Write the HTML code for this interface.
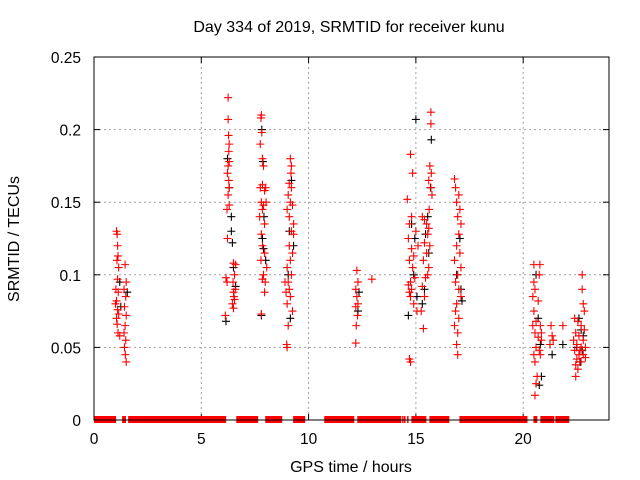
<!DOCTYPE html>
<html><head><meta charset="utf-8"><style>
body{margin:0;background:#fff}
svg{display:block;font-family:"Liberation Sans",sans-serif}
</style></head><body>
<svg id="chart" width="640" height="480">
<rect width="640" height="480" fill="#fff"/>
<text x="349" y="32" font-size="16" text-anchor="middle">Day 334 of 2019, SRMTID for receiver kunu</text>
<text x="19" y="239" font-size="16" text-anchor="middle" transform="rotate(-90 19 239)">SRMTID / TECUs</text>
<text x="351" y="472" font-size="16" text-anchor="middle">GPS time / hours</text>
<g id="grid"></g><g id="ticks"></g><g id="marks"></g>
<rect x="94" y="57" width="515" height="363" fill="none" stroke="#000"/>
</svg>
<script>
const xTicks=[0,5,10,15,20];
const yTicks=[0,0.05,0.1,0.15,0.2,0.25];
const yTickLabels=["0","0.05","0.1","0.15","0.2","0.25"];
const zeroSegments=[[0,1.03],[1.31,1.49],[1.59,6.16],[6.63,7.65],[7.98,8.77],[9.28,9.84],[10.73,12.13],[12.27,14.32],[14.36,14.38],[14.45,14.47],[14.59,14.61],[14.79,15.49],[15.63,16.56],[17.03,20.2],[20.48,20.66],[20.8,21.45],[21.5,22.15]];
const redPoints=[[1.05,0.13],[1.08,0.128],[1.1,0.12],[1.12,0.113],[1.07,0.11],[1.15,0.105],[1.1,0.097],[1.02,0.09],[1.13,0.088],[1.05,0.082],[1.0,0.08],[1.1,0.076],[1.15,0.073],[1.05,0.07],[1.08,0.066],[1.12,0.06],[1.2,0.058],[1.45,0.107],[1.5,0.095],[1.4,0.09],[1.48,0.085],[1.42,0.078],[1.5,0.072],[1.45,0.065],[1.4,0.06],[1.48,0.055],[1.42,0.05],[1.46,0.045],[1.5,0.04],
[6.25,0.222],[6.25,0.207],[6.27,0.196],[6.3,0.19],[6.28,0.185],[6.3,0.178],[6.25,0.175],[6.22,0.17],[6.28,0.165],[6.3,0.16],[6.25,0.155],[6.3,0.148],[6.2,0.145],[6.22,0.125],[6.15,0.098],[6.2,0.095],[6.12,0.072],[6.5,0.108],[6.55,0.1],[6.48,0.095],[6.5,0.088],[6.55,0.083],[6.45,0.08],[6.5,0.077],[6.52,0.085],[6.6,0.107],[6.58,0.09],
[7.8,0.21],[7.78,0.208],[7.82,0.198],[7.75,0.19],[7.85,0.18],[7.9,0.175],[7.85,0.162],[7.75,0.16],[7.95,0.158],[7.8,0.15],[7.9,0.148],[7.85,0.145],[7.72,0.14],[7.95,0.135],[7.8,0.128],[7.85,0.12],[7.95,0.115],[7.78,0.11],[7.9,0.1],[7.85,0.097],[7.95,0.088],[7.8,0.073],[8.0,0.16],[8.02,0.15],[8.05,0.105],[7.98,0.095],
[9.15,0.18],[9.2,0.175],[9.18,0.17],[9.1,0.163],[9.2,0.16],[9.05,0.155],[9.15,0.15],[9.25,0.148],[9.0,0.145],[9.1,0.14],[9.3,0.135],[9.2,0.13],[9.3,0.128],[9.1,0.12],[9.25,0.115],[9.15,0.11],[9.0,0.105],[9.2,0.1],[9.05,0.095],[9.1,0.09],[8.95,0.088],[9.15,0.085],[9.0,0.08],[9.25,0.075],[9.05,0.065],[8.98,0.052],[9.0,0.05],[8.9,0.095],
[12.25,0.103],[12.3,0.095],[12.2,0.09],[12.25,0.085],[12.3,0.08],[12.2,0.078],[12.28,0.072],[12.22,0.065],[12.2,0.053],[12.95,0.097],
[14.75,0.183],[14.85,0.17],[14.6,0.152],[14.8,0.14],[14.7,0.135],[15.0,0.13],[14.65,0.125],[14.8,0.118],[14.9,0.113],[14.7,0.11],[14.85,0.105],[14.75,0.095],[14.65,0.093],[14.7,0.088],[14.8,0.09],[14.75,0.085],[14.9,0.08],[15.05,0.075],[14.7,0.042],[14.75,0.04],[14.95,0.098],[15.1,0.12],
[15.7,0.212],[15.7,0.204],[15.65,0.175],[15.72,0.17],[15.6,0.165],[15.7,0.16],[15.75,0.155],[15.62,0.145],[15.3,0.14],[15.4,0.138],[15.5,0.135],[15.6,0.132],[15.55,0.128],[15.4,0.122],[15.65,0.12],[15.5,0.115],[15.35,0.11],[15.6,0.105],[15.45,0.098],[15.3,0.092],[15.4,0.085],[15.25,0.075],[15.35,0.063],[15.55,0.1],
[16.8,0.166],[16.85,0.16],[17.0,0.155],[16.9,0.15],[17.05,0.145],[16.95,0.14],[17.1,0.135],[17.0,0.128],[16.9,0.12],[17.05,0.115],[16.8,0.11],[17.1,0.105],[16.95,0.1],[16.85,0.095],[17.0,0.09],[17.1,0.085],[16.9,0.08],[16.85,0.075],[17.0,0.07],[16.8,0.065],[16.95,0.06],[16.9,0.052],[16.95,0.045],
[20.5,0.107],[20.78,0.107],[20.5,0.095],[20.55,0.09],[20.45,0.085],[20.75,0.1],[20.7,0.082],[20.5,0.075],[20.6,0.068],[20.45,0.065],[20.8,0.065],[20.55,0.06],[20.7,0.057],[20.85,0.055],[20.6,0.05],[20.75,0.048],[20.5,0.045],[20.8,0.045],[20.55,0.04],[20.65,0.03],[20.6,0.025],[20.55,0.017],[20.85,0.06],
[21.3,0.065],[21.35,0.058],[21.25,0.052],[21.4,0.055],
[22.75,0.1],[22.75,0.09],[22.8,0.08],[22.85,0.075],[22.4,0.07],[22.55,0.068],[22.7,0.065],[22.85,0.062],[22.45,0.06],[22.6,0.058],[22.8,0.055],[22.35,0.055],[22.5,0.052],[22.7,0.05],[22.9,0.05],[22.4,0.048],[22.6,0.045],[22.8,0.045],[22.5,0.042],[22.7,0.04],[22.45,0.038],[22.55,0.035],[22.45,0.03],[22.65,0.048],[22.9,0.043],[21.85,0.065]];
const blackPoints=[[1.2,0.095],[1.25,0.078],[1.55,0.088],
[6.22,0.18],[6.3,0.16],[6.4,0.14],[6.45,0.122],[6.4,0.13],[6.5,0.105],[6.15,0.068],[6.6,0.092],
[7.82,0.2],[7.87,0.178],[7.92,0.14],[7.85,0.125],[7.9,0.118],[7.8,0.072],[8.0,0.11],
[9.2,0.165],[9.1,0.13],[9.3,0.12],[9.05,0.1],[9.15,0.07],
[12.3,0.075],[12.35,0.088],
[15.0,0.207],[14.8,0.135],[14.95,0.125],[14.65,0.072],[15.05,0.085],[14.9,0.1],
[15.72,0.193],[15.68,0.16],[15.55,0.14],[15.45,0.128],[15.6,0.115],[15.4,0.09],[15.3,0.08],
[17.05,0.125],[17.1,0.09],[16.9,0.1],[17.15,0.082],
[20.6,0.1],[20.7,0.07],[20.8,0.052],[20.85,0.03],[20.75,0.024],
[21.35,0.045],[21.85,0.052],
[22.6,0.07],[22.7,0.062],[22.8,0.058],[22.5,0.05],[22.65,0.04],[22.75,0.048]];
const NS='http://www.w3.org/2000/svg';
const X0=94,X1=609,Y0=420,Y1=57;
function xs(h){return X0+(h/24)*(X1-X0);}
function ys(v){return Y0-(v/0.25)*(Y0-Y1);}
function mk(t,a,p){const e=document.createElementNS(NS,t);for(const k in a)e.setAttribute(k,a[k]);p.appendChild(e);return e;}
const grid=document.getElementById('grid'),ticks=document.getElementById('ticks'),marks=document.getElementById('marks');
xTicks.forEach(t=>{const x=xs(t);
 if(t>0){const g=mk('line',{x1:x,x2:x,y1:Y1,y2:Y0,stroke:'#a0a0a0','stroke-dasharray':'2,3'},grid);
 
 }
 mk('line',{x1:x,x2:x,y1:Y0,y2:Y0-6,stroke:'#000'},ticks);
 mk('line',{x1:x,x2:x,y1:Y1,y2:Y1+6,stroke:'#000'},ticks);
 const l=mk('text',{x:x,y:444,'font-size':15.5,'text-anchor':'middle'},ticks);l.textContent=String(t);
 
 });
yTicks.forEach((t,i)=>{const y=ys(t);
 if(i>0&&i<yTicks.length-1){const g=mk('line',{x1:X0,x2:X1,y1:y,y2:y,stroke:'#a0a0a0','stroke-dasharray':'2,3'},grid);
 
 }
 mk('line',{x1:X0,x2:X0+6,y1:y,y2:y,stroke:'#000'},ticks);
 mk('line',{x1:X1,x2:X1-6,y1:y,y2:y,stroke:'#000'},ticks);
 const l=mk('text',{x:81,y:y+6,'font-size':15.5,'text-anchor':'end'},ticks);l.textContent=yTickLabels[i];
 
 });
zeroSegments.forEach(s=>{const a=xs(s[0]),b=Math.max(xs(s[1]),a+1.5);
 const r=mk('rect',{x:a,y:Y0-4,width:b-a,height:7,fill:'#ff0000'},marks);
 
 });
function plus(p,c){const x=xs(p[0]),y=ys(p[1]);
 const e=mk('path',{d:`M${x-4},${y}H${x+4}M${x},${y-4}V${y+4}`,stroke:c,'stroke-width':1.1},marks);
 return e;}
blackPoints.forEach(p=>{const e=plus(p,'#000');
 
 });
redPoints.forEach(p=>{const e=plus(p,'#ff0000');
 
 });
</script>
</body></html>
